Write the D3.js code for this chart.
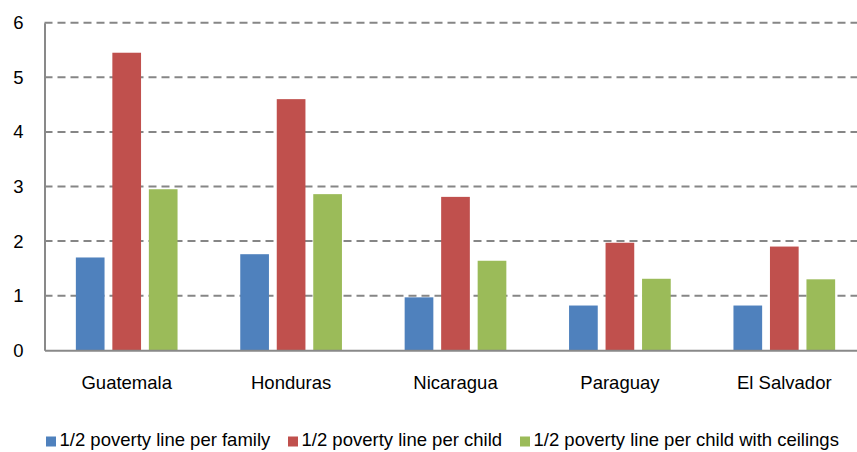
<!DOCTYPE html>
<html>
<head>
<meta charset="utf-8">
<script src="https://cdn.jsdelivr.net/npm/d3@7"></script>
<style>
  html, body { margin: 0; padding: 0; background: #fff; }
  svg { display: block; font-family: "Liberation Sans", Arial, sans-serif; }
</style>
</head>
<body>
<svg id="chart" width="857" height="452"></svg>
<script>
const categories = ["Guatemala", "Honduras", "Nicaragua", "Paraguay", "El Salvador"];
const seriesNames = [
  "1/2 poverty line per family",
  "1/2 poverty line per child",
  "1/2 poverty line per child with ceilings"
];
const perFamily = [1.70, 1.76, 0.97, 0.82, 0.82];
const perChild = [5.45, 4.60, 2.81, 1.97, 1.90];
const perChildCeilings = [2.95, 2.86, 1.64, 1.31, 1.30];
const yTicks = [0, 1, 2, 3, 4, 5, 6];
const colors = ["#4F81BD", "#C0504D", "#9BBB59"];

const seriesValues = [perFamily, perChild, perChildCeilings];

const svg = d3.select("#chart");
const mLeft = 44.5, mRight = 866.5, mTop = 22.7, mBottom = 350.3;
const fontSize = 18.5;

const x0 = d3.scaleBand().domain(categories).range([mLeft, mRight]).paddingInner(0).paddingOuter(0);
const bw = x0.bandwidth();
const x1 = d3.scaleBand().domain(seriesNames)
  .range([bw / 2 - 54.75, bw / 2 + 54.75])
  .paddingInner(0.214).paddingOuter(0.107);
const y = d3.scaleLinear().domain([0, 6]).range([mBottom, mTop]);

// gridlines
svg.append("g").selectAll("line").data(yTicks.filter(d => d > 0)).join("line")
  .attr("x1", mLeft).attr("x2", 857)
  .attr("y1", d => y(d)).attr("y2", d => y(d))
  .attr("stroke", "#868686").attr("stroke-width", 2)
  .attr("stroke-dasharray", "8,5");

// bars
const groups = svg.append("g").selectAll("g").data(categories).join("g")
  .attr("transform", d => `translate(${x0(d)},0)`);
groups.selectAll("rect")
  .data((c, i) => seriesNames.map((s, j) => ({ s, j, v: seriesValues[j][i] })))
  .join("rect")
  .attr("x", d => x1(d.s))
  .attr("width", x1.bandwidth())
  .attr("y", d => y(d.v))
  .attr("height", d => y(0) - y(d.v))
  .attr("fill", d => colors[d.j]);

// y axis
const yAxis = svg.append("g").attr("transform", `translate(${mLeft},0)`)
  .call(d3.axisLeft(y).tickValues(yTicks).tickSize(0).tickPadding(21).tickFormat(d3.format("d")));
yAxis.select(".domain").attr("stroke", "#898989").attr("stroke-width", 2);
yAxis.selectAll("text").attr("font-size", fontSize).attr("fill", "#000")
  .attr("font-family", "Liberation Sans, Arial, sans-serif");

// x axis
const xAxis = svg.append("g").attr("transform", `translate(0,${mBottom})`)
  .call(d3.axisBottom(x0).tickSize(0).tickPadding(26));
xAxis.select(".domain").attr("stroke", "#898989").attr("stroke-width", 2);
xAxis.selectAll("text").attr("font-size", fontSize).attr("fill", "#000")
  .attr("font-family", "Liberation Sans, Arial, sans-serif");

// legend
const legendX = [46, 288, 520];
const legend = svg.append("g").selectAll("g").data(seriesNames).join("g")
  .attr("transform", (d, i) => `translate(${legendX[i]},436.5)`);
legend.append("rect").attr("width", 10).attr("height", 10)
  .attr("fill", (d, i) => colors[i]);
legend.append("text").attr("x", 13.5).attr("y", 9.5)
  .attr("font-size", fontSize).attr("fill", "#000").text(d => d);
</script>
</body>
</html>
